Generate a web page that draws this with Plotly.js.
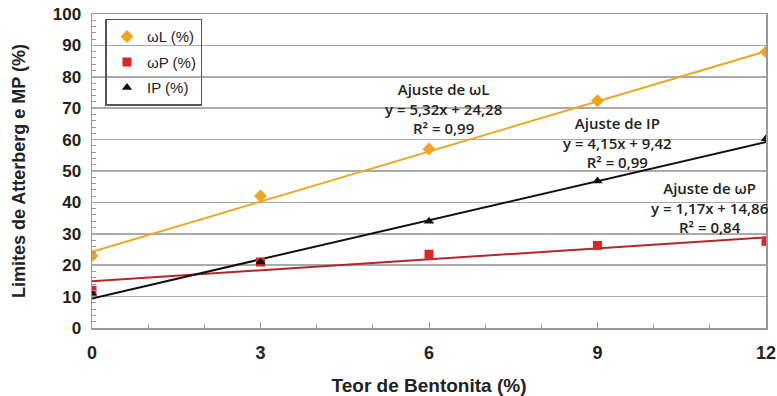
<!DOCTYPE html>
<html><head><meta charset="utf-8">
<script src="https://cdn.plot.ly/plotly-3.0.1.min.js"></script>
<style>body{margin:0;background:#fff}#c{width:777px;height:396px}</style>
</head><body><div id="c"></div>
<script>
const bentonita = [0, 3, 6, 9, 12];
const wL = [23, 42, 57, 72.4, 88];
const wP = [12, 21, 23.5, 26.3, 27.6];
const IP = [11, 21, 34, 46.8, 60.3];
// fitted coefficients [slope, intercept]
const fitWL = [5.32, 24.28];
const fitWP = [1.17, 14.86];
const fitIP = [4.15, 9.42];
const xTicks = [0, 3, 6, 9, 12];

const xr = [bentonita[0], bentonita[bentonita.length-1]];
const fitLine = (f) => xr.map(x => f[0]*x + f[1]);

const cL = '#EFA51E', cP = '#D8262B', cI = '#111';
const traces = [
  {x: xr, y: fitLine(fitWL), mode:'lines', line:{color:'#E9A82A', width:2}, showlegend:false, hoverinfo:'skip'},
  {x: xr, y: fitLine(fitWP), mode:'lines', line:{color:'#B5262A', width:2}, showlegend:false, hoverinfo:'skip'},
  {x: xr, y: fitLine(fitIP), mode:'lines', line:{color:'#111', width:2}, showlegend:false, hoverinfo:'skip'},
  {x: bentonita, y: wL, mode:'markers', name:'ωL (%)', legendgroup:'a', marker:{symbol:'diamond', size:10, color:cL}},
  {x: bentonita, y: wP, mode:'markers', name:'ωP (%)', legendgroup:'b', marker:{symbol:'square', size:9, color:cP}},
  {x: bentonita, y: IP, mode:'markers', name:'IP (%)', legendgroup:'c', marker:{symbol:'triangle-up', size:9, color:cI}}
];

const annFont = {family:'Open Sans, sans-serif', size:15, color:'#222', weight:600};
const mk = (x, y, t) => ({x, y, xref:'x', yref:'y', text:t, showarrow:false, font:annFont, align:'center', xanchor:'center', yanchor:'middle'});
const layout = {
  width: 777, height: 396,
  margin: {l: 92, r: 11, t: 14, b: 68},
  paper_bgcolor: '#fff', plot_bgcolor: '#fff',
  showlegend: true,
  legend: {x: 0.02, y: 0.985, xanchor:'left', yanchor:'top', bgcolor:'rgba(0,0,0,0)',
    bordercolor:'#555', borderwidth:1.5, tracegroupgap: 3, entrywidth: 90,
    font:{family:'Liberation Sans, Arial, sans-serif', size:15, color:'#222'}},
  xaxis: {range:[0, 12], tickvals: xTicks, ticktext: xTicks.map(String), ticks:'inside', ticklen:6, tickcolor:'#999',
    ticklabelstandoff: 8,
    showgrid:false, zeroline:false, showline:true, linecolor:'#999', linewidth:1.5, mirror:true,
    minor:{dtick:1, ticks:'inside', ticklen:4, tickcolor:'#999', showgrid:false},
    tickfont:{family:'Liberation Sans, Arial, sans-serif', size:18, color:'#222', weight:'bold'},
    title:{text:'Teor de Bentonita (%)', standoff:16, font:{family:'Liberation Sans, Arial, sans-serif', size:19, color:'#222', weight:'bold'}}},
  yaxis: {range:[0, 100], dtick:10, ticks:'', showgrid:true, gridcolor:'#aaa', gridwidth:1.5,
    ticklabelstandoff: 6,
    zeroline:false, showline:true, linecolor:'#999', linewidth:1.5, mirror:true,
    minor:{dtick:2, ticks:'inside', ticklen:4, tickcolor:'#999', showgrid:false},
    tickfont:{family:'Liberation Sans, Arial, sans-serif', size:17, color:'#222', weight:'bold'},
    title:{text:'Limites de Atterberg e MP (%)', standoff:22, font:{family:'Liberation Sans, Arial, sans-serif', size:18, color:'#222', weight:'bold'}}},
  annotations: [
    mk(6.25, 70, 'Ajuste de ωL<br>y = 5,32x + 24,28<br>R² = 0,99'),
    mk(9.36, 59.2, 'Ajuste de IP<br>y = 4,15x + 9,42<br>R² = 0,99'),
    mk(11.0, 38.5, 'Ajuste de ωP<br>y = 1,17x + 14,86<br>R² = 0,84')
  ]
};
Plotly.newPlot('c', traces, layout, {displayModeBar:false, staticPlot:true});
</script></body></html>
